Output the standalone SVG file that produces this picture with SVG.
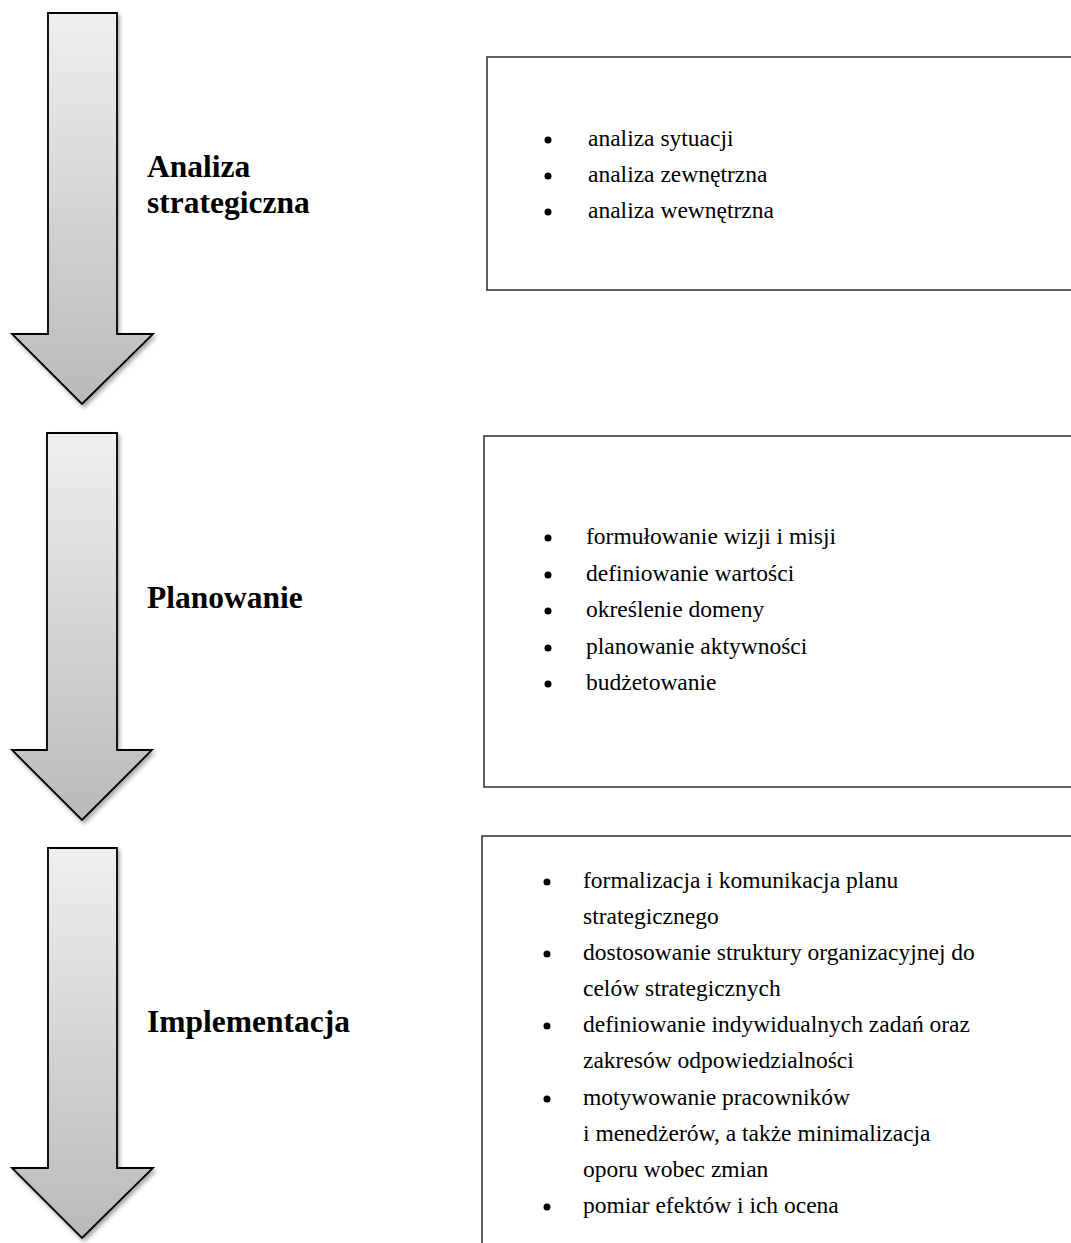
<svg xmlns="http://www.w3.org/2000/svg" width="1071" height="1243" viewBox="0 0 1071 1243">
  <style>
    .phase { font-family: "Liberation Serif", "Times New Roman", serif; font-weight: bold; font-size: 31.5px; fill: #000; }
    .item { font-family: "Liberation Serif", "Times New Roman", serif; font-size: 23.5px; fill: #000; }
    .bullet { fill: #000; }
    .box { fill: #fff; stroke: #2b2b2b; stroke-width: 1.5; }
    .arrow { fill: url(#arrowFill); stroke: #000; stroke-width: 1.8; stroke-linejoin: miter; filter: url(#soft); }
  </style>
  <defs>
    <linearGradient id="arrowFill" x1="0" y1="0" x2="0" y2="1">
      <stop offset="0" stop-color="#efefef"/>
      <stop offset="0.8" stop-color="#c4c4c4"/>
      <stop offset="1" stop-color="#b9b9b9"/>
    </linearGradient>
    <filter id="soft" x="-20%" y="-10%" width="150%" height="130%">
      <feDropShadow dx="2" dy="3" stdDeviation="2" flood-color="#000" flood-opacity="0.35"/>
    </filter>
  </defs>

  <rect width="1071" height="1243" fill="#fff"/>

  <!-- flow arrows between phases -->
  <g id="connectors">
    <polygon class="arrow" points="48,13 117,13 117,334 153,334 82,404 12,334 48,334"/>
    <polygon class="arrow" points="47,433 117,433 117,750 152,750 82,820 12,750 47,750"/>
    <polygon class="arrow" points="48,848 117,848 117,1168 153,1168 82,1238 12,1168 48,1168"/>
  </g>

  <!-- phase 1 -->
  <g id="analiza">
    <text class="phase" x="147" y="177">Analiza</text>
    <text class="phase" x="147" y="213">strategiczna</text>
  </g>
  <g id="analiza-items">
    <rect class="box" x="487" y="57" width="600" height="233"/>
    <circle class="bullet" cx="548" cy="140" r="3.5"/>
    <circle class="bullet" cx="548" cy="176" r="3.5"/>
    <circle class="bullet" cx="548" cy="212" r="3.5"/>
    <text class="item" x="588" y="146">analiza sytuacji</text>
    <text class="item" x="588" y="182">analiza zewnętrzna</text>
    <text class="item" x="588" y="218">analiza wewnętrzna</text>
  </g>

  <!-- phase 2 -->
  <g id="planowanie">
    <text class="phase" x="147" y="608">Planowanie</text>
  </g>
  <g id="planowanie-items">
    <rect class="box" x="484" y="436" width="600" height="351"/>
    <circle class="bullet" cx="548" cy="538" r="3.5"/>
    <circle class="bullet" cx="548" cy="575" r="3.5"/>
    <circle class="bullet" cx="548" cy="611" r="3.5"/>
    <circle class="bullet" cx="548" cy="648" r="3.5"/>
    <circle class="bullet" cx="548" cy="684" r="3.5"/>
    <text class="item" x="586" y="544">formułowanie wizji i misji</text>
    <text class="item" x="586" y="581">definiowanie wartości</text>
    <text class="item" x="586" y="617">określenie domeny</text>
    <text class="item" x="586" y="654">planowanie aktywności</text>
    <text class="item" x="586" y="690">budżetowanie</text>
  </g>

  <!-- phase 3 -->
  <g id="implementacja">
    <text class="phase" x="147" y="1032">Implementacja</text>
  </g>
  <g id="implementacja-items">
    <rect class="box" x="482" y="836" width="600" height="430"/>
    <circle class="bullet" cx="547" cy="882" r="3.5"/>
    <circle class="bullet" cx="547" cy="954" r="3.5"/>
    <circle class="bullet" cx="547" cy="1026" r="3.5"/>
    <circle class="bullet" cx="547" cy="1099" r="3.5"/>
    <circle class="bullet" cx="547" cy="1207" r="3.5"/>
    <text class="item" x="583" y="888">formalizacja i komunikacja planu</text>
    <text class="item" x="583" y="924">strategicznego</text>
    <text class="item" x="583" y="960">dostosowanie struktury organizacyjnej do</text>
    <text class="item" x="583" y="996">celów strategicznych</text>
    <text class="item" x="583" y="1032">definiowanie indywidualnych zadań oraz</text>
    <text class="item" x="583" y="1068">zakresów odpowiedzialności</text>
    <text class="item" x="583" y="1105">motywowanie pracowników</text>
    <text class="item" x="583" y="1141">i menedżerów, a także minimalizacja</text>
    <text class="item" x="583" y="1177">oporu wobec zmian</text>
    <text class="item" x="583" y="1213">pomiar efektów i ich ocena</text>
  </g>
</svg>
